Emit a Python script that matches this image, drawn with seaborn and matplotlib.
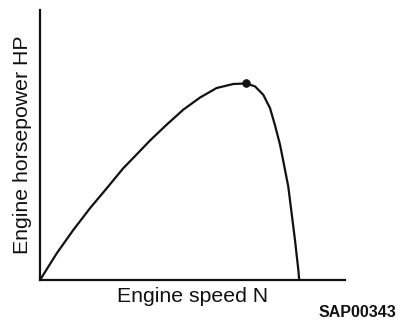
import matplotlib
matplotlib.use("Agg")
import matplotlib.pyplot as plt
import seaborn as sns
import pandas as pd

# Engine speed (% of axis span) and horsepower (% of axis height)
speed = [0.0, 5.5, 10.9, 16.4, 21.9, 27.3, 32.8, 36.1, 41.5, 47.0, 52.5, 57.9,
         63.4, 67.7, 70.5, 73.2, 75.4, 77.0, 78.7, 80.0, 81.4, 82.5, 83.6, 84.7, 85.0]
horsepower = [0.0, 9.9, 18.5, 26.6, 34.0, 41.4, 47.8, 51.7, 57.5, 63.1, 67.6, 71.1,
              72.6, 72.8, 71.7, 68.6, 63.7, 57.5, 50.1, 42.7, 34.6, 24.7, 14.8, 3.7, 0.0]
peak_speed = [67.7]
peak_hp = [72.8]

x_label = "Engine speed N"
y_label = "Engine horsepower HP"
code_label = "SAP00343"

sns.set_style("white")
plt.rcParams["font.family"] = ["Liberation Sans", "DejaVu Sans"]

df = pd.DataFrame({"speed": speed, "hp": horsepower})

fig = plt.figure(figsize=(3.98, 3.22), dpi=100)
ax = fig.add_axes([40 / 398, 42 / 322, 305 / 398, 270 / 322])

sns.lineplot(data=df, x="speed", y="hp", ax=ax, color="#111111",
             linewidth=1.6, sort=False, estimator=None,
             solid_joinstyle="round", solid_capstyle="round")
sns.scatterplot(x=peak_speed, y=peak_hp, ax=ax, color="#111111", s=32,
                edgecolor="#111111", zorder=5)

ax.set_xlim(0, 100)
ax.set_ylim(0, 100)
ax.set_xticks([])
ax.set_yticks([])
for side in ("top", "right"):
    ax.spines[side].set_visible(False)
for side in ("left", "bottom"):
    ax.spines[side].set_color("#111111")
    ax.spines[side].set_linewidth(1.6)

ax.set_xlabel(x_label, fontsize=15.3, color="#111111", labelpad=5)
ax.set_ylabel(y_label, fontsize=15.3, color="#111111", labelpad=6)

fig.text(396 / 398, 1 - 317 / 322, code_label, fontsize=11.5, fontweight="bold",
         color="#111111", ha="right", va="baseline")

fig.savefig("out.png", dpi=100)
